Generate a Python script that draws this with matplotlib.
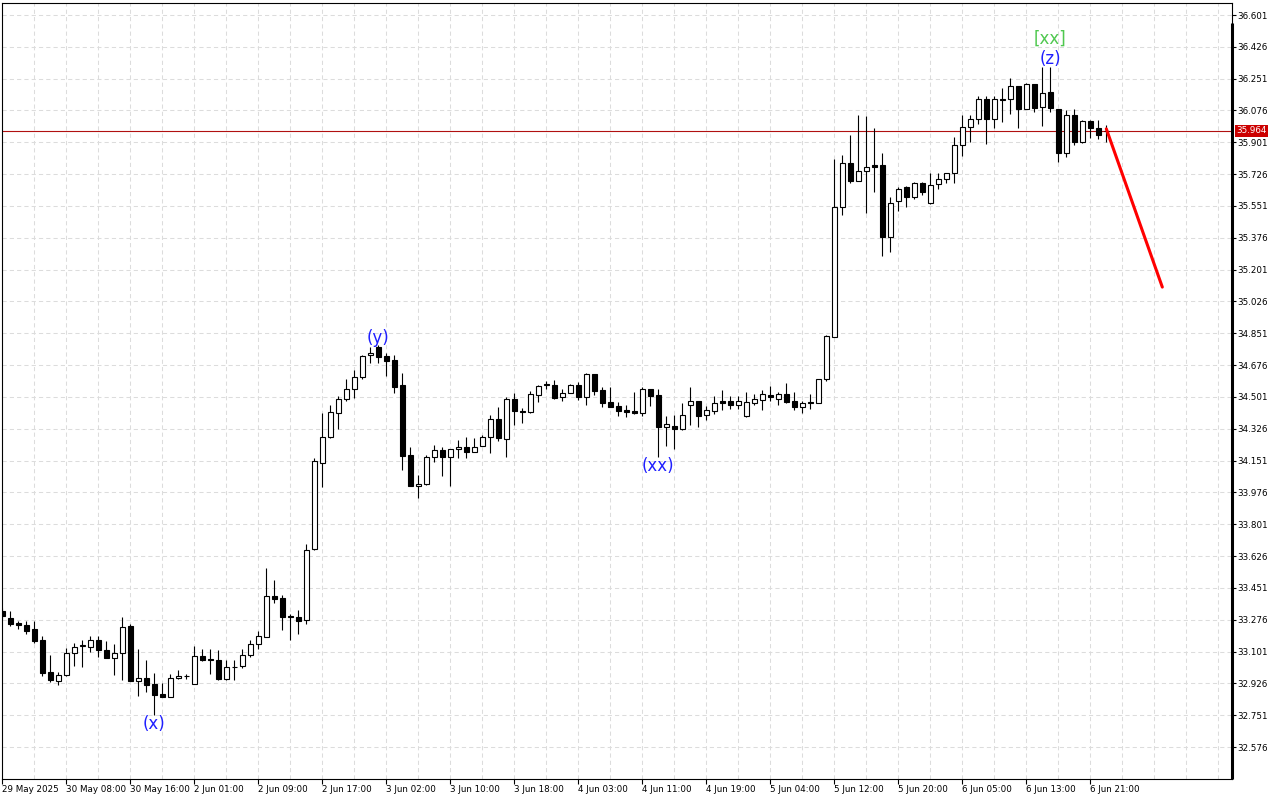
import numpy as np
import matplotlib
matplotlib.use("Agg")
import matplotlib.pyplot as plt
from matplotlib.transforms import blended_transform_factory

# Hourly XAG candles, 29 May 23:00 .. 6 Jun 23:00
opens = [33.322, 33.286, 33.260, 33.246, 33.224, 33.163, 32.987, 32.939, 32.972, 33.093,
         33.133, 33.126, 33.167, 33.108, 33.066, 33.095, 33.240, 32.941, 32.954, 32.925,
         32.870, 32.853, 32.956, 32.967, 32.925, 33.075, 33.059, 33.057, 32.952, 33.018,
         33.020, 33.081, 33.145, 33.181, 33.405, 33.394, 33.298, 33.290, 33.273, 33.664,
         34.140, 34.278, 34.415, 34.487, 34.542, 34.611, 34.729, 34.775, 34.727, 34.703,
         34.566, 34.181, 34.012, 34.021, 34.168, 34.208, 34.171, 34.212, 34.228, 34.199,
         34.232, 34.278, 34.379, 34.270, 34.492, 34.425, 34.419, 34.514, 34.569, 34.566,
         34.498, 34.525, 34.569, 34.501, 34.628, 34.538, 34.472, 34.450, 34.428, 34.423,
         34.410, 34.544, 34.509, 34.336, 34.340, 34.325, 34.454, 34.476, 34.404, 34.426,
         34.478, 34.478, 34.459, 34.395, 34.470, 34.485, 34.509, 34.490, 34.516, 34.476,
         34.448, 34.472, 34.468, 34.602, 34.831, 35.543, 35.785, 35.689, 35.741, 35.774,
         35.774, 35.378, 35.576, 35.653, 35.603, 35.677, 35.565, 35.671, 35.697, 35.730,
         35.884, 35.983, 36.027, 36.137, 36.027, 36.137, 36.137, 36.210, 36.085, 36.221,
         36.093, 36.175, 36.082, 35.840, 36.049, 35.900, 36.019, 35.977, 35.965]
highs = [33.339, 33.322, 33.269, 33.268, 33.268, 33.185, 33.081, 32.989, 33.119, 33.148,
         33.167, 33.185, 33.189, 33.158, 33.145, 33.290, 33.251, 33.117, 33.055, 32.985,
         32.930, 32.980, 32.998, 32.980, 33.132, 33.114, 33.117, 33.112, 33.053, 33.057,
         33.117, 33.163, 33.213, 33.561, 33.493, 33.411, 33.310, 33.332, 33.695, 34.164,
         34.413, 34.456, 34.505, 34.597, 34.648, 34.731, 34.776, 34.786, 34.745, 34.731,
         34.635, 34.223, 34.074, 34.181, 34.236, 34.223, 34.214, 34.263, 34.278, 34.274,
         34.291, 34.399, 34.448, 34.498, 34.523, 34.441, 34.531, 34.564, 34.586, 34.593,
         34.547, 34.571, 34.584, 34.633, 34.629, 34.556, 34.554, 34.474, 34.454, 34.527,
         34.555, 34.546, 34.547, 34.395, 34.399, 34.465, 34.553, 34.478, 34.450, 34.505,
         34.538, 34.505, 34.505, 34.527, 34.516, 34.538, 34.560, 34.529, 34.580, 34.527,
         34.479, 34.516, 34.602, 34.842, 35.809, 35.831, 35.941, 36.051, 36.045, 35.977,
         35.840, 35.601, 35.656, 35.660, 35.682, 35.684, 35.733, 35.730, 35.732, 35.931,
         36.051, 36.051, 36.155, 36.155, 36.155, 36.197, 36.252, 36.211, 36.228, 36.222,
         36.316, 36.316, 36.084, 36.078, 36.082, 36.023, 36.023, 36.023, 35.996]
lows = [33.278, 33.242, 33.227, 33.200, 33.148, 32.967, 32.934, 32.917, 32.967, 33.020,
        33.016, 33.099, 33.070, 33.064, 32.972, 32.943, 32.938, 32.855, 32.879, 32.752,
        32.850, 32.852, 32.950, 32.950, 32.924, 33.049, 32.980, 32.943, 32.943, 32.947,
        33.013, 33.071, 33.117, 33.180, 33.368, 33.222, 33.163, 33.200, 33.255, 33.660,
        34.006, 34.277, 34.325, 34.479, 34.496, 34.599, 34.688, 34.688, 34.617, 34.520,
        34.098, 34.010, 33.946, 34.016, 34.144, 34.067, 34.012, 34.166, 34.166, 34.197,
        34.230, 34.193, 34.259, 34.168, 34.344, 34.360, 34.410, 34.474, 34.544, 34.489,
        34.479, 34.524, 34.483, 34.456, 34.511, 34.446, 34.445, 34.397, 34.391, 34.409,
        34.395, 34.452, 34.168, 34.232, 34.212, 34.318, 34.347, 34.336, 34.373, 34.406,
        34.428, 34.434, 34.434, 34.391, 34.457, 34.428, 34.479, 34.459, 34.465, 34.428,
        34.410, 34.437, 34.465, 34.589, 34.830, 35.502, 35.678, 35.686, 35.510, 35.629,
        35.277, 35.299, 35.524, 35.546, 35.590, 35.614, 35.564, 35.647, 35.680, 35.679,
        35.827, 35.904, 35.999, 35.889, 35.977, 36.014, 36.054, 35.977, 36.084, 36.069,
        35.990, 36.069, 35.794, 35.821, 35.886, 35.899, 35.922, 35.919, 35.900]
closes = [33.295, 33.255, 33.246, 33.214, 33.159, 32.983, 32.947, 32.974, 33.095, 33.128,
          33.136, 33.167, 33.112, 33.066, 33.095, 33.238, 32.939, 32.954, 32.917, 32.862,
          32.851, 32.958, 32.969, 32.965, 33.075, 33.057, 33.055, 32.952, 33.016, 33.015,
          33.081, 33.145, 33.185, 33.405, 33.390, 33.291, 33.290, 33.269, 33.662, 34.146,
          34.283, 34.417, 34.489, 34.544, 34.613, 34.728, 34.742, 34.723, 34.699, 34.556,
          34.177, 34.012, 34.025, 34.168, 34.208, 34.171, 34.212, 34.228, 34.199, 34.228,
          34.278, 34.379, 34.276, 34.492, 34.426, 34.420, 34.516, 34.563, 34.568, 34.496,
          34.525, 34.569, 34.501, 34.628, 34.534, 34.468, 34.446, 34.424, 34.419, 34.410,
          34.542, 34.507, 34.336, 34.351, 34.322, 34.399, 34.476, 34.397, 34.428, 34.470,
          34.468, 34.459, 34.481, 34.472, 34.487, 34.516, 34.498, 34.516, 34.474, 34.446,
          34.465, 34.465, 34.602, 34.835, 35.543, 35.785, 35.689, 35.743, 35.763, 35.766,
          35.378, 35.570, 35.647, 35.598, 35.675, 35.629, 35.669, 35.697, 35.730, 35.884,
          35.987, 36.027, 36.137, 36.027, 36.137, 36.135, 36.208, 36.085, 36.221, 36.087,
          36.170, 36.087, 35.840, 36.049, 35.904, 36.016, 35.977, 35.941, 35.964]

time_labels = ["29 May 2025", "30 May 08:00", "30 May 16:00", "2 Jun 01:00", "2 Jun 09:00",
               "2 Jun 17:00", "3 Jun 02:00", "3 Jun 10:00", "3 Jun 18:00", "4 Jun 03:00",
               "4 Jun 11:00", "4 Jun 19:00", "5 Jun 04:00", "5 Jun 12:00", "5 Jun 20:00",
               "6 Jun 05:00", "6 Jun 13:00", "6 Jun 21:00"]
label_step = 8          # bars between time labels

# wave marks: (text, bar index, anchored at "high"/"low", colour)
wave_marks = [("(x)", 19, "low", "#1f1fff"),
              ("(y)", 47, "high", "#1f1fff"),
              ("(xx)", 82, "low", "#1f1fff"),
              ("(z)", 131, "high", "#1f1fff"),
              ("[xx]", 131, "high2", "#4fc84f")]

# forecast arrow line
forecast_bars = [138, 145]
forecast_prices = [35.975, 35.105]

current_price = 35.964
price_ticks = np.round(36.601 - 0.175 * np.arange(24), 3)

# ---------------------------------------------------------------------------
W, H = 1280, 800
fig = plt.figure(figsize=(W / 100, H / 100), dpi=100)
fig.patch.set_facecolor("white")
ax = fig.add_axes([2 / W, 1 - 778.5 / H, 1230 / W, 775.5 / H])

o = np.array(opens); h = np.array(highs); l = np.array(lows); c = np.array(closes)
x = np.arange(len(o))

ax.set_xlim(-0.04, 153.71)
ax.set_ylim(32.403, 36.667)

# dashed grid
for gx in range(0, 154, 4):
    ax.axvline(gx, color="#dcdcdc", lw=0.75, ls=(0, (4, 3)), zorder=0)
for gy in price_ticks:
    ax.axhline(gy, color="#dcdcdc", lw=0.75, ls=(0, (4, 3)), zorder=0)

# candles
up = c > o
ax.vlines(x, l, h, color="black", lw=0.8, zorder=2)
bottoms = np.minimum(o, c)
heights = np.maximum(np.abs(c - o), 0.0015)
ax.bar(x, heights, bottom=bottoms, width=0.58,
       color=np.where(up, "white", "black"), edgecolor="black", lw=0.8, zorder=3)

# current price line + label
ax.axhline(current_price, color="#b01010", lw=0.8, zorder=1)
tr = blended_transform_factory(ax.transAxes, ax.transData)
ax.text(1.0035, current_price, f"{current_price:.3f}", transform=tr, ha="left", va="center",
        fontsize=6.3, color="white", zorder=10, clip_on=False,
        bbox=dict(boxstyle="square,pad=0.18", fc="#cc0000", ec="none"))

# wave labels
for txt, bi, where, col in wave_marks:
    if where == "low":
        y0, dy = l[bi], -9 * 0.72
    elif where == "high":
        y0, dy = h[bi], 7.5 * 0.72
    else:
        y0, dy = h[bi], 28 * 0.72
    ax.annotate(txt, xy=(bi, y0), xytext=(0, dy), textcoords="offset points",
                ha="center", va="center", fontsize=12, color=col, zorder=6)

ax.plot(forecast_bars, forecast_prices, color="#ff0000", lw=2.2,
        solid_capstyle="round", zorder=5)

# axes styling
for s in ["left", "top", "bottom", "right"]:
    ax.spines[s].set_color("black")
    ax.spines[s].set_linewidth(0.8)
ax.plot([1, 1], [0, (778.5 - 23) / 775.5], transform=ax.transAxes, color="black",
        lw=2.2, solid_capstyle="butt", clip_on=False, zorder=11)

ax.yaxis.tick_right()
ax.set_yticks(price_ticks)
ax.set_yticklabels([f"{v:.3f}" for v in price_ticks])
ax.tick_params(axis="y", direction="out", length=3, width=0.8, pad=1,
               labelsize=6.3, colors="black")

tick_pos = np.arange(len(time_labels)) * label_step
ax.set_xticks(tick_pos)
ax.set_xticklabels(time_labels, ha="left")
ax.tick_params(axis="x", direction="out", length=3.5, width=0.8, pad=1,
               labelsize=6.3, colors="black")

fig.savefig("out.png", dpi=100, facecolor="white")
